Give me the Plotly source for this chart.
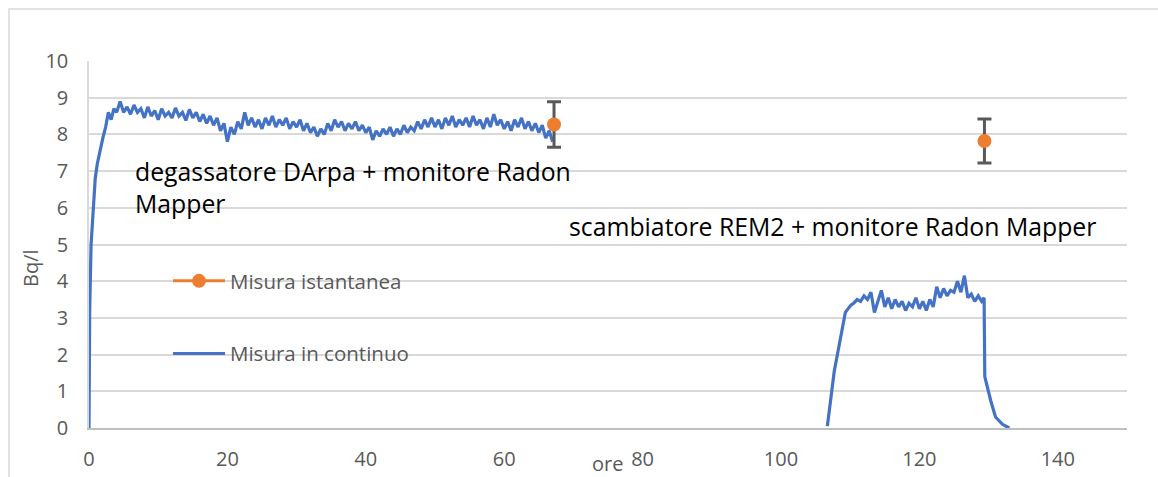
import numpy as np
import plotly.graph_objects as go

# --- data ---
# continuous measurement, degassatore DArpa (hours, Bq/l)
rise1_h = [0, 0.1, 0.3, 0.6, 0.9, 1.2, 1.6, 2.0, 2.4, 2.8, 3.2, 3.6, 4.0, 4.5, 5.0]
rise1_v = [0, 3.2, 5.0, 6.0, 6.8, 7.2, 7.6, 7.9, 8.2, 8.6, 8.4, 8.7, 8.6, 8.9, 8.6]
plat1_start, plat1_step = 5.5, 0.5
plat1_v = [8.75, 8.55, 8.8, 8.6, 8.7, 8.45, 8.75, 8.5, 8.65, 8.4,
           8.7, 8.5, 8.6, 8.45, 8.72, 8.5, 8.6, 8.38, 8.68, 8.45,
           8.6, 8.35, 8.55, 8.3, 8.5, 8.25, 8.45, 8.1, 8.3, 7.8,
           8.2, 8.0, 8.35, 8.15, 8.6, 8.25, 8.45, 8.2, 8.4, 8.15,
           8.45, 8.25, 8.5, 8.2, 8.4, 8.25, 8.45, 8.15, 8.35, 8.2,
           8.4, 8.1, 8.3, 8.05, 8.2, 7.95, 8.15, 8.0, 8.3, 8.1,
           8.4, 8.2, 8.35, 8.1, 8.3, 8.15, 8.35, 8.1, 8.25, 8.05,
           8.2, 7.85, 8.1, 7.95, 8.15, 8.0, 8.2, 7.95, 8.15, 8.0,
           8.25, 8.05, 8.2, 8.1, 8.35, 8.15, 8.4, 8.2, 8.45, 8.2,
           8.4, 8.15, 8.45, 8.25, 8.5, 8.2, 8.4, 8.25, 8.45, 8.2,
           8.5, 8.25, 8.4, 8.15, 8.45, 8.2, 8.55, 8.25, 8.4, 8.15,
           8.35, 8.1, 8.4, 8.2, 8.45, 8.15, 8.35, 8.1, 8.3, 8.05,
           8.25, 7.9, 8.1, 7.8]

# continuous measurement, scambiatore REM2
rise2_h = [106.7, 107.2, 107.7, 108.2, 108.6, 109.1, 109.3, 109.7, 110.1, 110.5, 111.0]
rise2_v = [0.05, 0.85, 1.55, 2.05, 2.5, 2.95, 3.15, 3.25, 3.35, 3.4, 3.5]
plat2_start, plat2_step = 111.5, 0.5
plat2_v = [3.45, 3.6, 3.5, 3.7, 3.15, 3.45, 3.75, 3.3, 3.55, 3.25,
           3.5, 3.3, 3.45, 3.2, 3.4, 3.3, 3.55, 3.25, 3.45, 3.2,
           3.5, 3.3, 3.85, 3.55, 3.8, 3.6, 3.75, 3.7, 4.0, 3.7,
           4.15, 3.55, 3.65, 3.45, 3.6, 3.45]
fall2_h = [129.35, 129.45, 129.8, 130.3, 131.0, 132.0, 133.0]
fall2_v = [3.55, 1.4, 1.1, 0.75, 0.3, 0.1, 0.0]

# instantaneous measurements
inst_h = [67.2, 129.4]
inst_v = [8.27, 7.82]
inst_err = [0.62, 0.6]

x_ticks = [0, 20, 40, 60, 80, 100, 120, 140]
y_ticks = list(range(0, 11))

label1 = "degassatore DArpa + monitore Radon<br>Mapper"
label2 = "scambiatore REM2 + monitore Radon Mapper"

# --- build ---
plat1_h = [round(plat1_start + i * plat1_step, 2) for i in range(len(plat1_v))]
plat2_h = [round(plat2_start + i * plat2_step, 2) for i in range(len(plat2_v))]
cont_h = rise1_h + plat1_h + [None] + rise2_h + plat2_h + fall2_h
cont_v = rise1_v + plat1_v + [None] + rise2_v + plat2_v + fall2_v

BLUE = "#4472C4"
ORANGE = "#ED7D31"
GRAY = "#595959"
FONT = "Open Sans"

W, H = 1158, 477
ML, MR, MT, MB = 89, 31, 61, 49
pw, ph = W - ML - MR, H - MT - MB


def px(xp):
    return (xp - ML) / pw


def py(yp):
    return (H - MB - yp) / ph


fig = go.Figure()
fig.add_trace(go.Scatter(x=cont_h, y=cont_v, mode="lines", name="Misura in continuo",
                         line=dict(color=BLUE, width=3.2), connectgaps=False,
                         legendgroup="b", legendrank=2, hoverinfo="skip"))
fig.add_trace(go.Scatter(x=inst_h, y=inst_v, mode="markers", showlegend=False,
                         marker=dict(color=ORANGE, size=14), hoverinfo="skip",
                         error_y=dict(type="data", array=inst_err, color=GRAY,
                                      thickness=3, width=7)))
fig.add_trace(go.Scatter(x=[None], y=[None], mode="lines+markers", name="Misura istantanea",
                         line=dict(color=ORANGE, width=3), marker=dict(color=ORANGE, size=14),
                         legendgroup="a", legendrank=1))

fig.add_annotation(x=6.4, y=6.57, xref="x", yref="y", text=label1, showarrow=False,
                   xanchor="left", yanchor="middle", align="left",
                   font=dict(family=FONT, size=24.8, color="black"))
fig.add_annotation(x=69.1, y=5.5, xref="x", yref="y", text=label2, showarrow=False,
                   xanchor="left", yanchor="middle", align="left",
                   font=dict(family=FONT, size=24.8, color="black"))
fig.add_annotation(x=px(30), y=py(268), xref="paper", yref="paper", text="Bq/l",
                   showarrow=False, textangle=-90, xanchor="center", yanchor="middle",
                   font=dict(family=FONT, size=20, color=GRAY))
fig.add_annotation(x=px(607), y=py(463), xref="paper", yref="paper", text="ore",
                   showarrow=False, xanchor="center", yanchor="middle",
                   font=dict(family=FONT, size=20, color=GRAY))

# outer chart border
fig.add_shape(type="rect", xref="paper", yref="paper",
              x0=px(9), x1=px(W + 20), y0=py(H + 20), y1=py(9),
              line=dict(color="#D9D9D9", width=1.5), layer="below")

fig.update_layout(
    width=W, height=H, margin=dict(l=ML, r=MR, t=MT, b=MB, autoexpand=False),
    paper_bgcolor="white", plot_bgcolor="white",
    font=dict(family=FONT, color=GRAY),
    legend=dict(x=px(168), y=py(261), xanchor="left", yanchor="top",
                bgcolor="rgba(0,0,0,0)", font=dict(family=FONT, size=20.5, color=GRAY),
                tracegroupgap=43, traceorder="grouped", itemwidth=52),
    xaxis=dict(range=[0, 150], tickvals=x_ticks, showgrid=False, zeroline=False,
               showline=True, linecolor="#BFBFBF", linewidth=1.5, automargin=False,
               ticks="", tickfont=dict(family=FONT, size=20, color=GRAY),
               ticklabelstandoff=12),
    yaxis=dict(range=[0, 10], tickvals=y_ticks, showgrid=True, gridcolor="#D9D9D9",
               gridwidth=1.5, zeroline=False, showline=True, linecolor="#D9D9D9",
               linewidth=1.5, automargin=False, ticks="",
               tickfont=dict(family=FONT, size=20, color=GRAY),
               ticklabelstandoff=15),
)

fig.write_html("out.html", config={"displayModeBar": False},
               post_script="document.body.style.margin='0px';document.body.style.overflow='hidden';")
